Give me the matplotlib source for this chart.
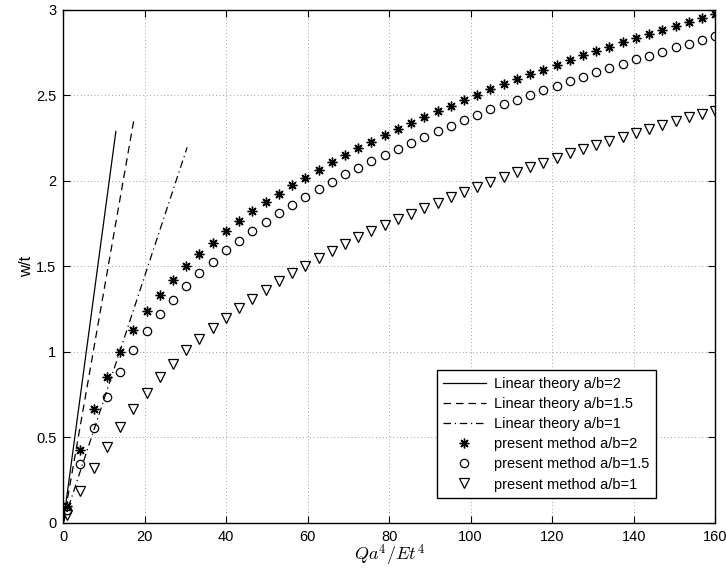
import matplotlib
matplotlib.use("Agg")
import matplotlib.pyplot as plt
from matplotlib.ticker import FormatStrFormatter

plt.rcParams['font.family'] = ['Liberation Sans', 'DejaVu Sans']
plt.rcParams['mathtext.fontset'] = 'cm'

# load parameter Qa^4/Et^4 at the computed steps
load = [1.0, 4.2, 7.5, 10.7, 14.0, 17.2, 20.5, 23.7, 27.0, 30.2,
        33.4, 36.7, 39.9, 43.2, 46.4, 49.7, 52.9, 56.2, 59.4, 62.7,
        65.9, 69.1, 72.4, 75.6, 78.9, 82.1, 85.4, 88.6, 91.9, 95.1,
        98.3, 101.6, 104.8, 108.1, 111.3, 114.6, 117.8, 121.1, 124.3, 127.6,
        130.8, 134.0, 137.3, 140.5, 143.8, 147.0, 150.3, 153.5, 156.8, 160.0]

# present method, w/t
w_ab2 = [0.095, 0.424, 0.664, 0.853, 0.999, 1.129, 1.238, 1.333, 1.421, 1.500,
         1.573, 1.637, 1.703, 1.763, 1.820, 1.874, 1.923, 1.973, 2.018, 2.065,
         2.107, 2.150, 2.189, 2.228, 2.267, 2.302, 2.337, 2.372, 2.405, 2.438,
         2.471, 2.503, 2.534, 2.563, 2.592, 2.623, 2.648, 2.678, 2.705, 2.734,
         2.759, 2.784, 2.810, 2.833, 2.857, 2.880, 2.905, 2.929, 2.951, 2.974]
w_ab15 = [0.075, 0.341, 0.555, 0.734, 0.882, 1.008, 1.121, 1.218, 1.304, 1.384,
          1.458, 1.526, 1.592, 1.650, 1.705, 1.761, 1.810, 1.860, 1.907, 1.952,
          1.995, 2.040, 2.075, 2.116, 2.152, 2.187, 2.223, 2.258, 2.291, 2.322,
          2.355, 2.386, 2.417, 2.446, 2.473, 2.503, 2.530, 2.555, 2.584, 2.608,
          2.635, 2.658, 2.684, 2.709, 2.732, 2.755, 2.779, 2.802, 2.824, 2.847]
w_ab1 = [0.045, 0.187, 0.320, 0.444, 0.560, 0.666, 0.761, 0.852, 0.930, 1.008,
         1.074, 1.138, 1.199, 1.256, 1.308, 1.362, 1.411, 1.458, 1.504, 1.545,
         1.586, 1.627, 1.668, 1.703, 1.738, 1.775, 1.808, 1.841, 1.872, 1.903,
         1.936, 1.966, 1.995, 2.024, 2.053, 2.082, 2.105, 2.133, 2.160, 2.183,
         2.211, 2.234, 2.258, 2.281, 2.304, 2.328, 2.351, 2.370, 2.390, 2.409]

# linear theory (straight lines from origin)
lin_ab2_x, lin_ab2_y = [0, 12.9], [0, 2.288]
lin_ab15_x, lin_ab15_y = [0, 17.4], [0, 2.367]
lin_ab1_x, lin_ab1_y = [0, 30.4], [0, 2.195]

fig = plt.figure(figsize=(7.26, 5.70), dpi=100)
ax = fig.add_axes([0.0872, 0.083, 0.8978, 0.900])

ax.plot(lin_ab2_x, lin_ab2_y, 'k-', lw=0.9, label='Linear theory a/b=2')
ax.plot(lin_ab15_x, lin_ab15_y, 'k', lw=0.9, dashes=(6, 4), label='Linear theory a/b=1.5')
ax.plot(lin_ab1_x, lin_ab1_y, 'k', lw=0.9, dashes=(6, 3, 1, 3), label='Linear theory a/b=1')

ax.plot(load, w_ab2, ls='none', marker=(8, 2, 0), ms=7, mec='k', mew=1.0,
        label='present method a/b=2')
ax.plot(load, w_ab15, ls='none', marker='o', ms=6, mfc='none', mec='k', mew=0.9,
        label='present method a/b=1.5')
ax.plot(load, w_ab1, ls='none', marker='v', ms=6.5, mfc='none', mec='k', mew=0.9,
        label='present method a/b=1')

ax.set_xlim(0, 160)
ax.set_ylim(0, 3)
ax.set_xticks(range(0, 161, 20))
ax.set_yticks([0, 0.5, 1, 1.5, 2, 2.5, 3])
ax.yaxis.set_major_formatter(FormatStrFormatter('%g'))
ax.tick_params(direction='in', top=True, right=True, length=5, width=0.8,
               labelsize=10.5, pad=5)
for sp in ax.spines.values():
    sp.set_linewidth(1.0)
ax.grid(True, color='k', linestyle=(0, (1, 4)), linewidth=0.5, alpha=0.7)

ax.set_xlabel(r'$Qa^4/Et^4$', fontsize=13, labelpad=-1)
ax.set_ylabel('w/t', fontsize=12, labelpad=1.5)

leg = ax.legend(loc='lower left', bbox_to_anchor=(0.573, 0.048), borderaxespad=0,
                fontsize=10.5, handlelength=2.9, handletextpad=0.55,
                labelspacing=0.42, borderpad=0.45, fancybox=False,
                framealpha=1, edgecolor='k')
leg.get_frame().set_linewidth(1.0)

fig.savefig('out.png', dpi=100)
